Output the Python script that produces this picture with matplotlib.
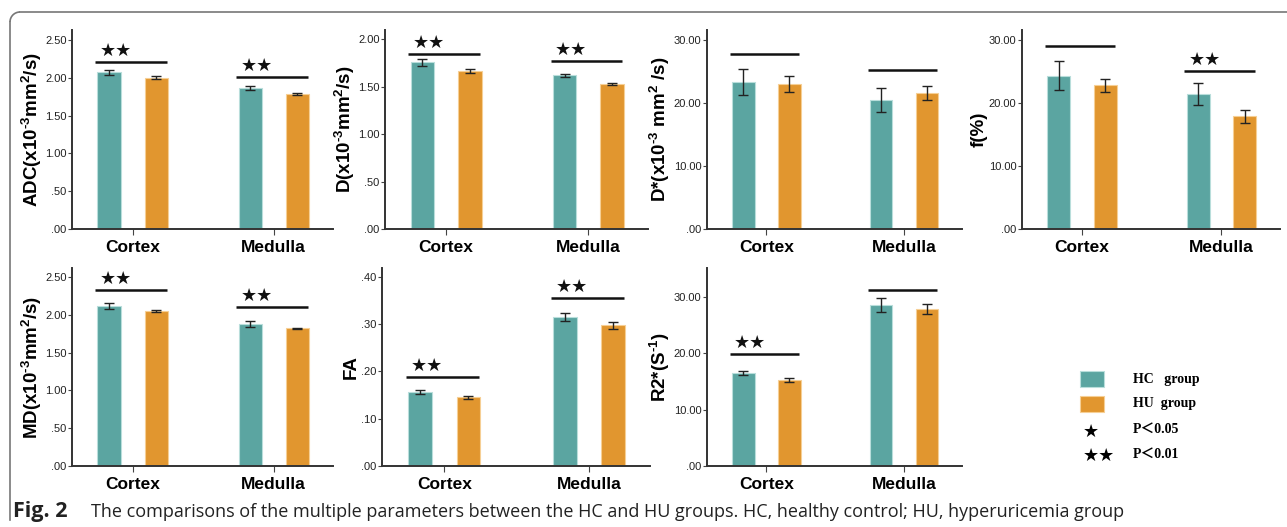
import numpy as np
import matplotlib
matplotlib.use('Agg')
import matplotlib.pyplot as plt
from matplotlib.patches import Rectangle

plt.rcParams['font.family'] = ['Liberation Sans', 'DejaVu Sans']
plt.rcParams['mathtext.fontset'] = 'custom'
plt.rcParams['mathtext.bf'] = 'Liberation Sans:bold'
plt.rcParams['mathtext.rm'] = 'Liberation Sans:bold'
plt.rcParams['mathtext.default'] = 'bf'

W, H = 1287, 527

categories = ['Cortex', 'Medulla']

# ADC
adc_hc = [2.07, 1.86]
adc_hu = [2.00, 1.78]
adc_hc_err = [0.035, 0.025]
adc_hu_err = [0.02, 0.015]
adc_sig = [2.21, 2.01]
adc_stars = ['★★', '★★']

# D
d_hc = [1.76, 1.62]
d_hu = [1.665, 1.53]
d_hc_err = [0.035, 0.02]
d_hu_err = [0.02, 0.012]
d_sig = [1.85, 1.77]
d_stars = ['★★', '★★']

# D*
dstar_hc = [23.3, 20.5]
dstar_hu = [23.0, 21.6]
dstar_hc_err = [2.1, 1.95]
dstar_hu_err = [1.25, 1.05]
dstar_sig = [27.8, 25.2]
dstar_stars = ['', '']

# f
f_hc = [24.3, 21.5]
f_hu = [22.8, 17.9]
f_hc_err = [2.3, 1.75]
f_hu_err = [1.0, 1.05]
f_sig = [29.0, 25.1]
f_stars = ['', '★★']

# MD
md_hc = [2.12, 1.88]
md_hu = [2.05, 1.82]
md_hc_err = [0.037, 0.044]
md_hu_err = [0.015, 0.01]
md_sig = [2.325, 2.11]
md_stars = ['★★', '★★']

# FA
fa_hc = [0.157, 0.315]
fa_hu = [0.145, 0.297]
fa_hc_err = [0.004, 0.0085]
fa_hu_err = [0.003, 0.007]
fa_sig = [0.187, 0.354]
fa_stars = ['★★', '★★']

# R2*
r2_hc = [16.45, 28.6]
r2_hu = [15.3, 27.8]
r2_hc_err = [0.35, 1.24]
r2_hu_err = [0.35, 0.92]
r2_sig = [19.9, 31.2]
r2_stars = ['★★', '']

teal = '#5ba5a1'
orange = '#e1962f'


def fmt(v):
    s = '%.2f' % v
    if s.startswith('0.'):
        s = s[1:]
    return s


def px_axes(fig, x0, x1, y0, y1):
    return fig.add_axes([x0 / W, 1 - y1 / H, (x1 - x0) / W, (y1 - y0) / H])


def panel(ax, hc, hu, hc_err, hu_err, sig, stars, ymax, ticks, ylabel):
    x = np.arange(len(categories))
    off = 0.167
    bw = 0.165
    ax.bar(x - off, hc, bw, color=teal, edgecolor='#b9dedb', linewidth=0.8, zorder=2)
    ax.bar(x + off, hu, bw, color=orange, edgecolor='#f6cf95', linewidth=0.8, zorder=2)
    ax.errorbar(x - off, hc, yerr=hc_err, fmt='none', ecolor='#222222',
                elinewidth=1.0, capsize=3.8, capthick=1.0, zorder=3)
    ax.errorbar(x + off, hu, yerr=hu_err, fmt='none', ecolor='#222222',
                elinewidth=1.0, capsize=3.8, capthick=1.0, zorder=3)
    for i in range(len(categories)):
        ax.plot([x[i] - 0.265, x[i] + 0.24], [sig[i], sig[i]], color='#111111',
                lw=1.8, solid_capstyle='butt', clip_on=False)
        if stars[i]:
            ax.annotate(stars[i], (x[i] - 0.12, sig[i]), xytext=(0, 1.5),
                        textcoords='offset points', ha='center', va='bottom',
                        fontsize=13, family='DejaVu Sans', color='#111111')
    ax.set_xlim(-0.43, 1.42)
    ax.set_ylim(0, ymax)
    ax.set_yticks(ticks)
    ax.set_yticklabels([fmt(t) for t in ticks], fontsize=8, color='#222222')
    ax.set_xticks(x)
    ax.set_xticklabels(categories, fontsize=12.5, fontweight='bold')
    ax.tick_params(axis='y', length=3, width=0.8, pad=1, color='#444444')
    ax.tick_params(axis='x', length=4, width=0.8, pad=4, color='#444444')
    for s in ['top', 'right']:
        ax.spines[s].set_visible(False)
    for s in ['left', 'bottom']:
        ax.spines[s].set_color('#333333')
        ax.spines[s].set_linewidth(1.4)
    ax.set_ylabel(ylabel, fontsize=13.5, fontweight='bold', labelpad=1)


fig = plt.figure(figsize=(W / 100, H / 100), dpi=100)

# outer frame
fig.add_artist(plt.Line2D([20 / W, 1.0], [1 - 12 / H, 1 - 12 / H], color='#777777', lw=1.2))
fig.add_artist(plt.Line2D([10 / W, 10 / W], [1 - 22 / H, 1 - 520 / H], color='#777777', lw=1.2))
fig.add_artist(matplotlib.patches.Arc((20 / W, 1 - 22 / H), 20 / W, 20 / H, theta1=90, theta2=180,
                                      color='#777777', lw=1.2, transform=fig.transFigure))

sup3 = r'$^{\text{-3}}$'

ax = px_axes(fig, 72, 333, 30, 229)
panel(ax, adc_hc, adc_hu, adc_hc_err, adc_hu_err, adc_sig, adc_stars, 2.63,
      [0, 0.5, 1.0, 1.5, 2.0, 2.5], 'ADC(x10' + sup3 + r'mm$^{2}$/s)')

ax = px_axes(fig, 385, 648, 30, 229)
panel(ax, d_hc, d_hu, d_hc_err, d_hu_err, d_sig, d_stars, 2.10,
      [0, 0.5, 1.0, 1.5, 2.0], 'D(x10' + sup3 + r'mm$^{2}$/s)')

ax = px_axes(fig, 707, 962, 30, 229)
panel(ax, dstar_hc, dstar_hu, dstar_hc_err, dstar_hu_err, dstar_sig, dstar_stars, 31.6,
      [0, 10, 20, 30], 'D*(x10' + sup3 + r' mm$^{2}$ /s)')

ax = px_axes(fig, 1022, 1280, 30, 229)
panel(ax, f_hc, f_hu, f_hc_err, f_hu_err, f_sig, f_stars, 31.6,
      [0, 10, 20, 30], 'f(%)')

ax = px_axes(fig, 72, 333, 268, 466)
panel(ax, md_hc, md_hu, md_hc_err, md_hu_err, md_sig, md_stars, 2.62,
      [0, 0.5, 1.0, 1.5, 2.0, 2.5], 'MD(x10' + sup3 + r'mm$^{2}$/s)')

ax = px_axes(fig, 382, 650, 268, 466)
panel(ax, fa_hc, fa_hu, fa_hc_err, fa_hu_err, fa_sig, fa_stars, 0.418,
      [0, 0.1, 0.2, 0.3, 0.4], 'FA')

ax = px_axes(fig, 707, 962, 268, 466)
panel(ax, r2_hc, r2_hu, r2_hc_err, r2_hu_err, r2_sig, r2_stars, 35.1,
      [0, 10, 20, 30], r'R2*(S$^{\text{-1}}$)')

# legend
serif = ['Liberation Serif', 'Noto Sans CJK SC', 'DejaVu Serif']
fig.add_artist(Rectangle((1080 / W, 1 - 387 / H), 24 / W, 16 / H, facecolor=teal,
                         edgecolor='#b9dedb', lw=0.8, transform=fig.transFigure))
fig.add_artist(Rectangle((1080 / W, 1 - 412 / H), 24 / W, 16 / H, facecolor=orange,
                         edgecolor='#f6cf95', lw=0.8, transform=fig.transFigure))
leg_texts = ['HC   group', 'HU  group', 'P＜0.05', 'P＜0.01']
leg_y = [379, 404, 429, 454]
for t, y in zip(leg_texts, leg_y):
    fig.text(1133 / W, 1 - y / H, t, fontsize=10, fontweight='bold', family=serif,
             va='center', ha='left')
fig.text(1091 / W, 1 - 432 / H, '★', fontsize=13, family='DejaVu Sans', ha='center', va='center')
fig.text(1099 / W, 1 - 456 / H, '★★', fontsize=13, family='DejaVu Sans', ha='center', va='center')

# caption
cap_font = ['Open Sans', 'DejaVu Sans']
fig.text(13 / W, 1 - 517 / H, 'Fig. 2', fontsize=15.5, fontweight='bold', family=cap_font,
         va='baseline', ha='left', color='#222222')
fig.text(91 / W, 1 - 517 / H,
         'The comparisons of the multiple parameters between the HC and HU groups. '
         'HC, healthy control; HU, hyperuricemia group',
         fontsize=13.0, family=cap_font, va='baseline', ha='left', color='#222222')

fig.savefig('out.png', dpi=100)
